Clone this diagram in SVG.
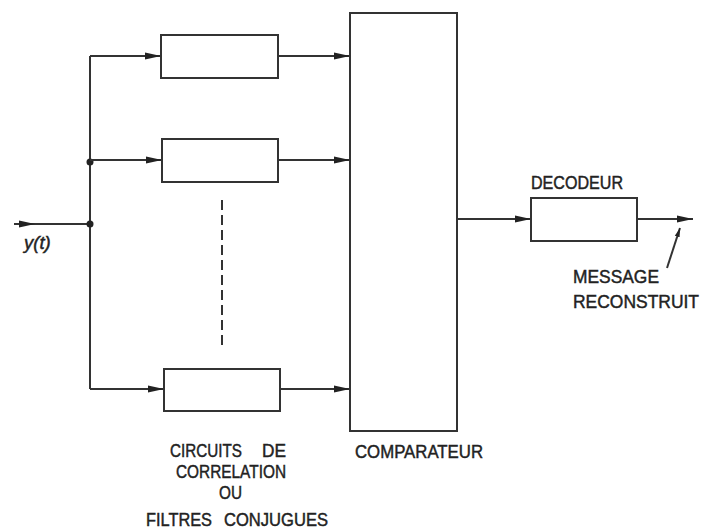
<svg xmlns="http://www.w3.org/2000/svg" width="707" height="531" viewBox="0 0 707 531">
<defs>
<style>
.box{fill:#fff;stroke:#333;stroke-width:2}
.ln{fill:none;stroke:#333;stroke-width:2}
.t{font-family:"Liberation Sans",Arial,sans-serif;font-size:18.5px;fill:#222;stroke:#222;stroke-width:0.45}
</style>
<marker id="ah" markerWidth="18" markerHeight="10" refX="16" refY="5" orient="auto" markerUnits="userSpaceOnUse">
<path d="M0,1.5 L16,5 L0,8.5 Z" fill="#222"/>
</marker>
<marker id="ah2" markerWidth="10" markerHeight="8" refX="9" refY="4" orient="auto" markerUnits="userSpaceOnUse">
<path d="M0,1.5 L9,4 L0,6.5 Z" fill="#222"/>
</marker>
</defs>
<rect width="707" height="531" fill="#fff"/>
<g id="connectors">
<line class="ln" x1="14" y1="224" x2="90" y2="224"/>
<line class="ln" x1="14" y1="224" x2="35" y2="224" marker-end="url(#ah)"/>
<line class="ln" x1="90" y1="56" x2="90" y2="389"/>
<circle cx="90" cy="162" r="3.5" fill="#222"/>
<circle cx="90" cy="224" r="3.5" fill="#222"/>
<line class="ln" x1="90" y1="56" x2="161" y2="56" marker-end="url(#ah)"/>
<line class="ln" x1="90" y1="160" x2="162" y2="160" marker-end="url(#ah)"/>
<line class="ln" x1="90" y1="389" x2="164" y2="389" marker-end="url(#ah)"/>
<line class="ln" x1="278" y1="56" x2="350" y2="56" marker-end="url(#ah)"/>
<line class="ln" x1="278" y1="160" x2="350" y2="160" marker-end="url(#ah)"/>
<line class="ln" x1="280" y1="389" x2="350" y2="389" marker-end="url(#ah)"/>
<line class="ln" x1="222" y1="200" x2="222" y2="348" stroke-dasharray="10,5"/>
<line class="ln" x1="457" y1="219" x2="531" y2="219" marker-end="url(#ah)"/>
<line class="ln" x1="637" y1="219" x2="693" y2="219" marker-end="url(#ah)"/>
<line class="ln" x1="667" y1="268" x2="680" y2="228" stroke-width="1.6" marker-end="url(#ah2)"/>
</g>
<g id="corr1"><rect class="box" x="161" y="35" width="117" height="43"/></g>
<g id="corr2"><rect class="box" x="162" y="139" width="116" height="43"/></g>
<g id="corr3"><rect class="box" x="164" y="369" width="116" height="42"/></g>
<g id="comparateur"><rect class="box" x="350" y="13" width="107" height="418"/>
<text class="t" x="355" y="458" textLength="128" lengthAdjust="spacingAndGlyphs">COMPARATEUR</text></g>
<g id="decodeur"><rect class="box" x="531" y="198" width="106" height="43"/>
<text class="t" x="531" y="189" textLength="92" lengthAdjust="spacingAndGlyphs">DECODEUR</text></g>
<g id="labels">
<text class="t" x="24" y="249" font-style="italic" font-size="21" stroke-width="0.2">y(t)</text>
<text class="t" x="573" y="283" textLength="86" lengthAdjust="spacingAndGlyphs">MESSAGE</text>
<text class="t" x="573" y="308" textLength="126" lengthAdjust="spacingAndGlyphs">RECONSTRUIT</text>
<text class="t" x="170" y="457" textLength="72" lengthAdjust="spacingAndGlyphs">CIRCUITS</text>
<text class="t" x="262" y="457" textLength="24" lengthAdjust="spacingAndGlyphs">DE</text>
<text class="t" x="176" y="478" textLength="110" lengthAdjust="spacingAndGlyphs">CORRELATION</text>
<text class="t" x="219" y="499" textLength="23" lengthAdjust="spacingAndGlyphs">OU</text>
<text class="t" x="146" y="526" textLength="66" lengthAdjust="spacingAndGlyphs">FILTRES</text>
<text class="t" x="224" y="526" textLength="104" lengthAdjust="spacingAndGlyphs">CONJUGUES</text>
</g>
</svg>
